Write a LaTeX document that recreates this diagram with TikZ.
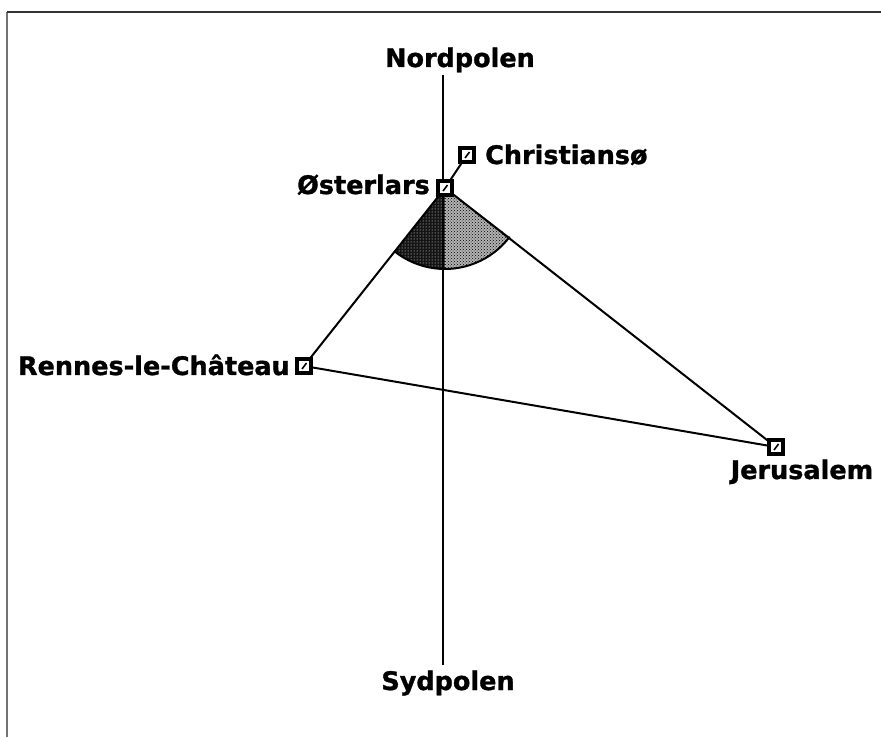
\documentclass[tikz,border=0pt]{standalone}
\usepackage{fontspec}
\setmainfont{DejaVu Sans}
\newfontfamily\labfont{DejaVu Sans Bold}[FakeBold=1.2]
\usetikzlibrary{patterns}
\tikzset{
  site/.style={draw, line width=3.4pt, fill=white, minimum size=14pt, inner sep=0pt,
    path picture={\draw[line width=1.6pt] ([xshift=-2pt,yshift=-3pt]path picture bounding box.center) -- ([xshift=2.5pt,yshift=3pt]path picture bounding box.center);}},
  lab/.style={font=\fontsize{25.5}{30}\labfont, inner sep=0pt},
  link/.style={line width=2pt, line join=round},
  frame/.style={line width=2.2pt}
}
\begin{document}
\begin{tikzpicture}[x=1pt,y=1pt]
\useasboundingbox (0,0) rectangle (881,737);
\fill[white] (0,0) rectangle (881,737);
% frame (top and left only)
\coordinate (f1) at (7,0);
\coordinate (f2) at (7,725);
\coordinate (f3) at (881,725);
\draw[frame, black!55] (f1) -- (f2);
\draw[frame, black!80] (f2) -- (f3);
% centre and sector
\coordinate (c) at (445,549);
\fill[black!92] (c) -- ++(231.6:81) arc[start angle=231.6, end angle=270, radius=81] -- cycle;
\fill[pattern=dots, pattern color=white] (c) -- ++(231.6:81) arc[start angle=231.6, end angle=270, radius=81] -- cycle;
\fill[black!30] (c) -- ++(270:81) arc[start angle=270, end angle=323, radius=81] -- cycle;
\fill[pattern=crosshatch dots, pattern color=black] (c) -- ++(270:81) arc[start angle=270, end angle=323, radius=81] -- cycle;
\draw[line width=2pt] (c) ++(231.6:81) arc[start angle=231.6, end angle=323, radius=81];
% axis
\coordinate (ntop) at (443,662);
\coordinate (sbot) at (443,72);
\draw[line width=1.8pt] (ntop) -- (sbot);
% sites
\node[site] (ost) at (445,549) {};
\node[site] (chr) at (467,582) {};
\node[site] (ren) at (304,371) {};
\node[site] (jer) at (776,290) {};
% connectors
\draw[link] (ost) -- (chr);
\draw[link] (ost) -- (ren);
\draw[link] (ost) -- (jer);
\draw[link] (ren) -- (jer);
% redraw sites on top
\node[site] at (ost) {};
\node[site] at (chr) {};
\node[site] at (ren) {};
\node[site] at (jer) {};
% labels
\node[lab, anchor=base] (nord) at (460,670) {Nordpolen};
\node[lab, anchor=base] (syd) at (448,47) {Sydpolen};
\node[lab, anchor=base west] (lchr) at (485,573) {Christiansø};
\node[lab, anchor=base east] (lost) at (430,543) {Østerlars};
\node[lab, anchor=base east] (lren) at (290,362) {Rennes-le-Château};
\node[lab, anchor=base] (ljer) at (802,258) {Jerusalem};
\end{tikzpicture}
\end{document}
